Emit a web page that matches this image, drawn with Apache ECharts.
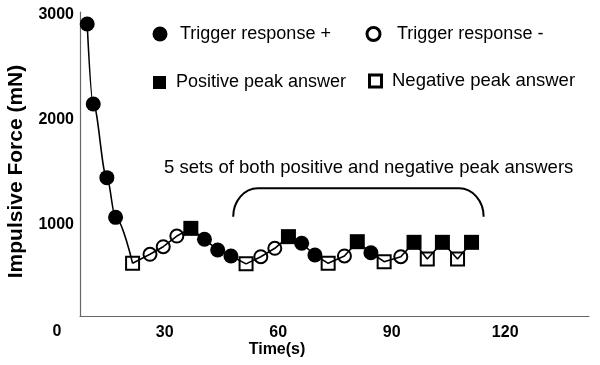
<!DOCTYPE html>
<html>
<head>
<meta charset="utf-8">
<script src="https://cdn.jsdelivr.net/npm/echarts@6/dist/echarts.min.js"></script>
<style>html,body{margin:0;padding:0;background:#fff}#c{width:600px;height:365px}</style>
</head>
<body>
<div id="c"></div>
<script>
// Data: [time (s), impulsive force (mN)]
const triggerPlus = [[9.5,2914],[11.1,2152],[14.7,1451],[17.0,1073],[40.5,864],[44.0,762],[47.5,705],[66.2,826],[69.7,714],[84.5,736]];
const triggerMinus = [[26.1,721],[29.6,793],[33.2,895],[55.4,698],[59.1,778],[77.5,705],[92.4,698]];
const positivePeak = [[36.9,968],[62.7,889],[80.9,841],[95.9,835],[103.4,835],[111.1,835]];
const negativePeak = [[21.5,635],[51.5,630],[73.2,635],[88.0,651],[99.4,676],[107.4,676]];
const xTicks = [30, 60, 90, 120];
const yTicks = [1000, 2000, 3000];
// bracket annotation extent: [tStart, tEnd, forceBottom, forceTop]
const bracket = [[48.1, 114.3, 1079, 1350]];
const annotation = '5 sets of both positive and negative peak answers';

const allPts = triggerPlus.concat(triggerMinus, positivePeak, negativePeak).sort((a,b)=>a[0]-b[0]);
const firstNeg = negativePeak[0][0];
const curveData = allPts.filter(p => p[0] <= firstNeg);
const pathData = allPts.filter(p => p[0] >= firstNeg);

const FONT = '"Liberation Sans", Arial, Helvetica, sans-serif';
const chart = echarts.init(document.getElementById('c'), null, {renderer:'canvas'});

const legendBase = {orient:'horizontal', selectedMode:false, padding:0, itemGap:0,
  textStyle:{fontSize:18, fontFamily:FONT, color:'#000', lineHeight:15}};

chart.setOption({
  animation:false,
  backgroundColor:'#fff',
  grid:{left:80, right:11, top:12, bottom:49, containLabel:false},
  xAxis:{type:'value', min:7.6, max:142.15,
    axisLine:{show:true, lineStyle:{color:'#666', width:1.2}},
    axisTick:{show:false}, splitLine:{show:false},
    axisLabel:{customValues:xTicks, formatter:v => String(v), margin:9, fontSize:16, fontWeight:'bold', color:'#000', fontFamily:FONT}},
  yAxis:{type:'value', min:133.3, max:3028.6,
    axisLine:{show:true, lineStyle:{color:'#666', width:1.2}},
    axisTick:{show:false}, splitLine:{show:false},
    axisLabel:{customValues:yTicks, formatter:v => String(v), margin:6, fontSize:16, fontWeight:'bold', color:'#000', fontFamily:FONT}},
  legend:[
    Object.assign({}, legendBase, {left:152.5, top:25, itemWidth:15, itemHeight:15,
      data:[{name:'Trigger response +', icon:'circle'}],
      textStyle:Object.assign({}, legendBase.textStyle, {padding:[0,0,0,7.5]})}),
    Object.assign({}, legendBase, {left:365.5, top:25, itemWidth:13, itemHeight:13,
      data:[{name:'Trigger response -', icon:'circle', itemStyle:{color:'#fff', borderColor:'#000', borderWidth:3}}],
      textStyle:Object.assign({}, legendBase.textStyle, {padding:[0,0,0,12]})}),
    Object.assign({}, legendBase, {left:153, top:73.5, itemWidth:13, itemHeight:13,
      data:[{name:'Positive peak answer', icon:'rect'}],
      textStyle:Object.assign({}, legendBase.textStyle, {padding:[0,0,0,5]})}),
    Object.assign({}, legendBase, {left:368, top:71.5, itemWidth:12, itemHeight:12,
      data:[{name:'Negative peak answer', icon:'rect', itemStyle:{color:'#fff', borderColor:'#000', borderWidth:3}}],
      textStyle:Object.assign({}, legendBase.textStyle, {padding:[0,0,0,5.5], fontSize:18.5})})
  ],
  series:[
    {name:'curve', type:'line', data:curveData, smooth:0.35, smoothMonotone:'x', showSymbol:false, symbol:'none',
      lineStyle:{color:'#000', width:1.6}, z:4, silent:true},
    {name:'path', type:'line', data:pathData, showSymbol:false, symbol:'none',
      lineStyle:{color:'#000', width:1.6}, z:4, silent:true},
    {name:'Trigger response +', type:'scatter', data:triggerPlus, symbol:'circle', symbolSize:15,
      itemStyle:{color:'#000', opacity:1}, z:2},
    {name:'Trigger response -', type:'scatter', data:triggerMinus, symbol:'circle', symbolSize:13,
      itemStyle:{color:'#fff', borderColor:'#000', borderWidth:2, opacity:1}, z:2},
    {name:'Positive peak answer', type:'scatter', data:positivePeak, symbol:'rect', symbolSize:15,
      itemStyle:{color:'#000', opacity:1}, z:2},
    {name:'Negative peak answer', type:'scatter', data:negativePeak, symbol:'rect', symbolSize:13,
      itemStyle:{color:'#fff', borderColor:'#000', borderWidth:2, opacity:1}, z:2},
    {name:'bracket', type:'custom', data:bracket, silent:true, z:3,
      renderItem:function(params, api){
        const t0 = api.value(0), t1 = api.value(1), vb = api.value(2), vt = api.value(3);
        const pl = api.coord([t0, vb]), pr = api.coord([t1, vb]);
        const yt = api.coord([t0, vt])[1];
        const rx = api.coord([t0 + 6.5, vb])[0] - pl[0];
        const h = pl[1] - yt, k = 0.552;
        const d = 'M' + pl[0] + ' ' + pl[1] +
          ' C' + pl[0] + ' ' + (pl[1] - h*k) + ' ' + (pl[0] + rx*(1-k)) + ' ' + yt + ' ' + (pl[0]+rx) + ' ' + yt +
          ' L' + (pr[0]-rx) + ' ' + yt +
          ' C' + (pr[0] - rx*(1-k)) + ' ' + yt + ' ' + pr[0] + ' ' + (pr[1] - h*k) + ' ' + pr[0] + ' ' + pr[1];
        return {type:'path', shape:{pathData:d}, style:{fill:'none', stroke:'#000', lineWidth:2}};
      }}
  ],
  graphic:[
    {type:'text', x:16, y:171.5, rotation:Math.PI/2, style:{text:'Impulsive Force (mN)', fill:'#000',
      font:'bold 21px ' + FONT, textAlign:'center', textVerticalAlign:'middle'}},
    {type:'text', x:277, y:350, style:{text:'Time(s)', fill:'#000', font:'bold 16px ' + FONT, textAlign:'center', textVerticalAlign:'middle'}},
    {type:'text', x:57, y:332, style:{text:'0', fill:'#000', font:'bold 16px ' + FONT, textAlign:'center', textVerticalAlign:'middle'}},
    {type:'text', x:164, y:168, style:{text:annotation, fill:'#000', font:'18.5px ' + FONT, textAlign:'left', textVerticalAlign:'middle'}}
  ]
});
</script>
</body>
</html>
